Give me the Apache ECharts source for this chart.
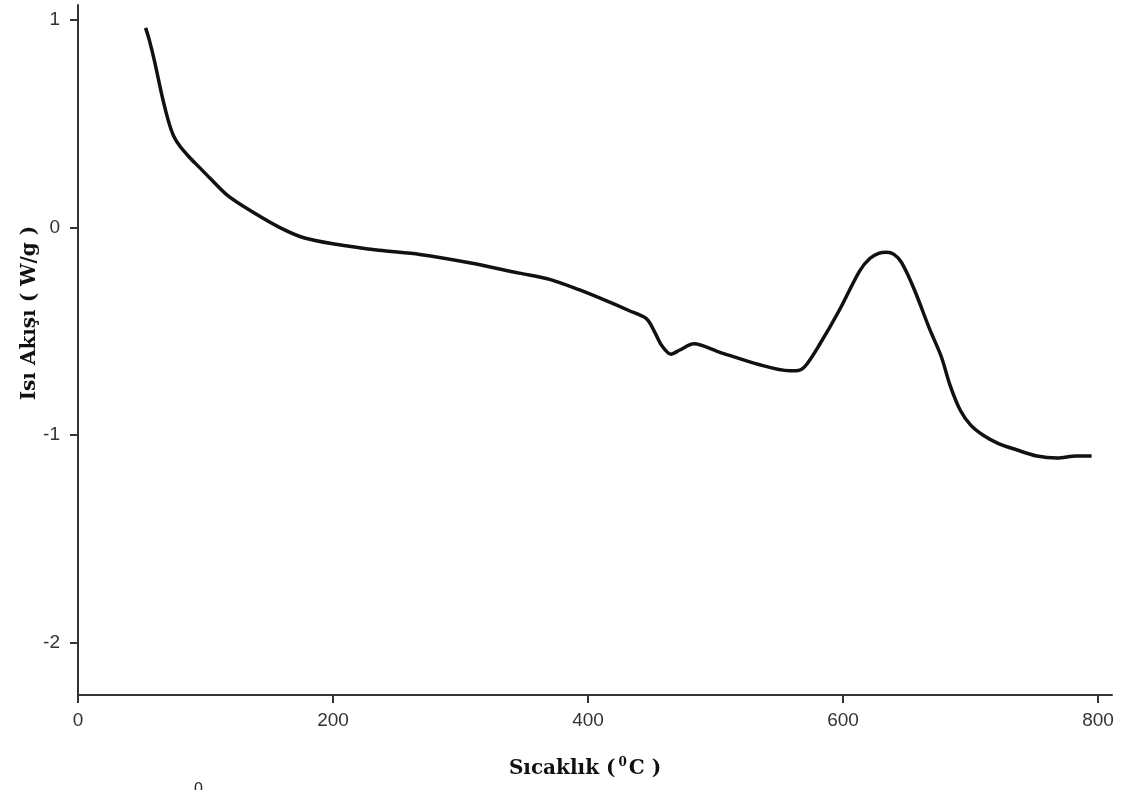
<!DOCTYPE html>
<html>
<head>
<meta charset="utf-8">
<script src="https://cdn.jsdelivr.net/npm/echarts@6/dist/echarts.min.js"></script>
<style>
  html, body { margin: 0; padding: 0; background: #fff; }
  #chart { width: 1128px; height: 790px; }
</style>
</head>
<body>
<div id="chart"></div>
<script>
// sicaklik (C) ve isi akisi (W/g), egriden okunan noktalar
var temps = [53, 56, 60, 66, 71, 75, 80, 87, 95, 103, 118, 138, 158, 177, 201, 236, 268, 307, 346, 370, 393, 417, 432, 446,
             452, 458, 465, 472, 483, 503, 534, 558, 563, 570, 582, 597, 613, 621, 628, 634, 640, 646, 656, 668, 677,
             684, 692, 700, 710, 722, 736, 752, 768, 783, 795];
var heatFlow = [0.96, 0.90, 0.80, 0.63, 0.51, 0.44, 0.39, 0.34, 0.29, 0.24, 0.15, 0.07, 0.00, -0.05, -0.08, -0.11, -0.13, -0.17, -0.22, -0.25, -0.30, -0.36, -0.40, -0.44,
                -0.50, -0.57, -0.61, -0.59, -0.56, -0.60, -0.66, -0.69, -0.69, -0.67, -0.56, -0.40, -0.21, -0.15, -0.125, -0.12, -0.13, -0.17, -0.30, -0.49, -0.62,
                -0.76, -0.88, -0.95, -1.00, -1.04, -1.07, -1.10, -1.11, -1.10, -1.10];
var xTicks = [0, 200, 400, 600, 800];
var yTicks = [-2, -1, 0, 1];

var points = [];
for (var i = 0; i < temps.length; i++) {
    points.push([temps[i], heatFlow[i]]);
}

var myChart = echarts.init(document.getElementById('chart'));
var option = {
    animation: false,
    backgroundColor: '#fff',
    grid: {
        left: 78,
        right: 16,
        top: 5,
        bottom: 95
    },
    xAxis: {
        type: 'value',
        min: 0,
        max: 811,
        name: '{b|Sıcaklık (}{s|0}{b|C )}',
        nameLocation: 'middle',
        nameGap: 62,
        nameMoveOverlap: false,
        nameTextStyle: {
            padding: [0, 20, 0, 0],
            rich: {
                b: { fontFamily: 'DejaVu Serif', fontWeight: 'bold', fontSize: 20, color: '#111', verticalAlign: 'bottom' },
                s: { fontFamily: 'DejaVu Serif', fontWeight: 'bold', fontSize: 12, color: '#111', padding: [0, 2, 10, 3] }
            }
        },
        axisLine: { onZero: false, lineStyle: { color: '#333', width: 2 } },
        axisTick: { show: true, inside: false, length: 8, customValues: xTicks, lineStyle: { color: '#333', width: 2 } },
        axisLabel: {
            customValues: xTicks,
            margin: 16,
            fontFamily: 'Liberation Sans Narrow, Liberation Sans',
            fontSize: 19,
            color: '#333'
        },
        splitLine: { show: false }
    },
    yAxis: {
        type: 'value',
        min: -2.25,
        max: 1.07,
        name: 'Isı Akışı ( W/g )',
        nameLocation: 'middle',
        nameRotate: 90,
        nameGap: 38,
        nameMoveOverlap: false,
        nameTextStyle: {
            fontFamily: 'DejaVu Serif',
            fontWeight: 'bold',
            fontSize: 20,
            color: '#111',
            padding: [0, 0, 0, 74]
        },
        axisLine: { show: true, lineStyle: { color: '#333', width: 2 } },
        axisTick: { show: true, inside: false, length: 8, customValues: yTicks, lineStyle: { color: '#333', width: 2 } },
        axisLabel: {
            customValues: yTicks,
            margin: 18,
            fontFamily: 'Liberation Sans Narrow, Liberation Sans',
            fontSize: 19,
            color: '#333'
        },
        splitLine: { show: false }
    },
    series: [{
        type: 'line',
        data: points,
        smooth: 0.3,
        symbol: 'none',
        lineStyle: { color: '#111', width: 3.5 }
    }],
    graphic: [{
        type: 'text',
        left: 194,
        top: 782,
        style: { text: '0', font: '16px Liberation Sans', fill: '#222' }
    }]
};
myChart.setOption(option, true);
</script>
</body>
</html>
